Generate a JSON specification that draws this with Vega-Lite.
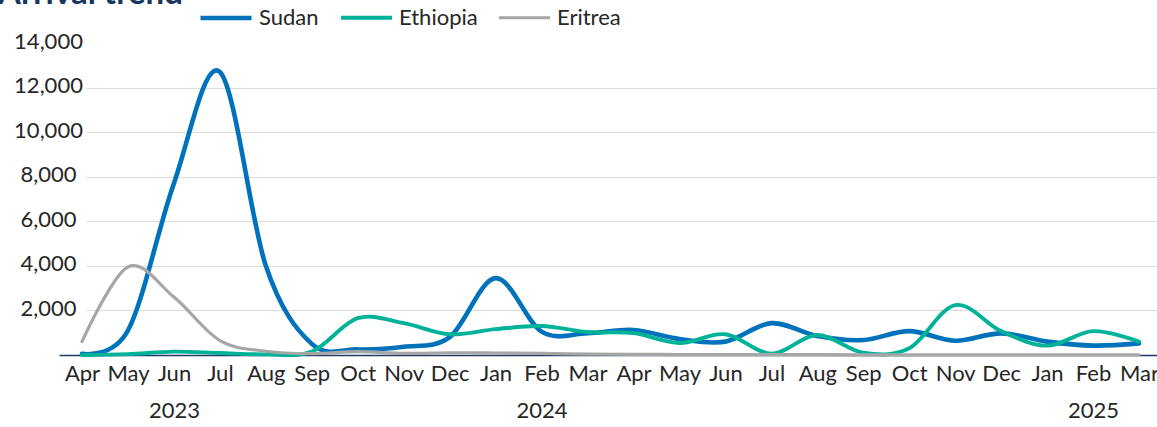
{
  "$schema": "https://vega.github.io/schema/vega-lite/v6.json",
  "width": 1074,
  "height": 312,
  "autosize": {"type": "none"},
  "padding": {"left": 86, "top": 43, "right": 0, "bottom": 72},
  "background": "white",
  "config": {"font": "Lato", "view": {"stroke": null}},
  "title": {"text": "Arrival trend", "anchor": "start", "frame": "group", "font": "Lato", "fontSize": 33, "fontWeight": "bold", "color": "#18375F", "baseline": "alphabetic", "offset": 0, "dx": -88, "dy": 47},
  "data": {"values": [
    {"m": "2023-04", "c": "Sudan", "v": 50},
    {"m": "2023-05", "c": "Sudan", "v": 1100},
    {"m": "2023-06", "c": "Sudan", "v": 7700},
    {"m": "2023-07", "c": "Sudan", "v": 12700},
    {"m": "2023-08", "c": "Sudan", "v": 4000},
    {"m": "2023-09", "c": "Sudan", "v": 500},
    {"m": "2023-10", "c": "Sudan", "v": 250},
    {"m": "2023-11", "c": "Sudan", "v": 370},
    {"m": "2023-12", "c": "Sudan", "v": 800},
    {"m": "2024-01", "c": "Sudan", "v": 3450},
    {"m": "2024-02", "c": "Sudan", "v": 1050},
    {"m": "2024-03", "c": "Sudan", "v": 980},
    {"m": "2024-04", "c": "Sudan", "v": 1120},
    {"m": "2024-05", "c": "Sudan", "v": 720},
    {"m": "2024-06", "c": "Sudan", "v": 600},
    {"m": "2024-07", "c": "Sudan", "v": 1430},
    {"m": "2024-08", "c": "Sudan", "v": 850},
    {"m": "2024-09", "c": "Sudan", "v": 670},
    {"m": "2024-10", "c": "Sudan", "v": 1070},
    {"m": "2024-11", "c": "Sudan", "v": 640},
    {"m": "2024-12", "c": "Sudan", "v": 970},
    {"m": "2025-01", "c": "Sudan", "v": 600},
    {"m": "2025-02", "c": "Sudan", "v": 420},
    {"m": "2025-03", "c": "Sudan", "v": 520},
    {"m": "2023-04", "c": "Ethiopia", "v": 0},
    {"m": "2023-05", "c": "Ethiopia", "v": 40},
    {"m": "2023-06", "c": "Ethiopia", "v": 150},
    {"m": "2023-07", "c": "Ethiopia", "v": 90},
    {"m": "2023-08", "c": "Ethiopia", "v": 30},
    {"m": "2023-09", "c": "Ethiopia", "v": 150},
    {"m": "2023-10", "c": "Ethiopia", "v": 1650},
    {"m": "2023-11", "c": "Ethiopia", "v": 1430},
    {"m": "2023-12", "c": "Ethiopia", "v": 930},
    {"m": "2024-01", "c": "Ethiopia", "v": 1160},
    {"m": "2024-02", "c": "Ethiopia", "v": 1300},
    {"m": "2024-03", "c": "Ethiopia", "v": 1030},
    {"m": "2024-04", "c": "Ethiopia", "v": 980},
    {"m": "2024-05", "c": "Ethiopia", "v": 540},
    {"m": "2024-06", "c": "Ethiopia", "v": 930},
    {"m": "2024-07", "c": "Ethiopia", "v": 60},
    {"m": "2024-08", "c": "Ethiopia", "v": 900},
    {"m": "2024-09", "c": "Ethiopia", "v": 100},
    {"m": "2024-10", "c": "Ethiopia", "v": 300},
    {"m": "2024-11", "c": "Ethiopia", "v": 2240},
    {"m": "2024-12", "c": "Ethiopia", "v": 1070},
    {"m": "2025-01", "c": "Ethiopia", "v": 420},
    {"m": "2025-02", "c": "Ethiopia", "v": 1070},
    {"m": "2025-03", "c": "Ethiopia", "v": 600},
    {"m": "2023-04", "c": "Eritrea", "v": 600},
    {"m": "2023-05", "c": "Eritrea", "v": 3950},
    {"m": "2023-06", "c": "Eritrea", "v": 2600},
    {"m": "2023-07", "c": "Eritrea", "v": 650},
    {"m": "2023-08", "c": "Eritrea", "v": 170},
    {"m": "2023-09", "c": "Eritrea", "v": 60},
    {"m": "2023-10", "c": "Eritrea", "v": 150},
    {"m": "2023-11", "c": "Eritrea", "v": 70},
    {"m": "2023-12", "c": "Eritrea", "v": 100},
    {"m": "2024-01", "c": "Eritrea", "v": 90},
    {"m": "2024-02", "c": "Eritrea", "v": 70},
    {"m": "2024-03", "c": "Eritrea", "v": 40},
    {"m": "2024-04", "c": "Eritrea", "v": 30},
    {"m": "2024-05", "c": "Eritrea", "v": 20},
    {"m": "2024-06", "c": "Eritrea", "v": 20},
    {"m": "2024-07", "c": "Eritrea", "v": 15},
    {"m": "2024-08", "c": "Eritrea", "v": 15},
    {"m": "2024-09", "c": "Eritrea", "v": 10},
    {"m": "2024-10", "c": "Eritrea", "v": 10},
    {"m": "2024-11", "c": "Eritrea", "v": 10},
    {"m": "2024-12", "c": "Eritrea", "v": 10},
    {"m": "2025-01", "c": "Eritrea", "v": 10},
    {"m": "2025-02", "c": "Eritrea", "v": 10},
    {"m": "2025-03", "c": "Eritrea", "v": 10}
  ]},
  "layer": [
    {
      "mark": {"type": "rule", "strokeOpacity": 0},
      "encoding": {
        "y": {"field": "v", "type": "quantitative", "scale": {"domain": [0, 14000]},
          "axis": {"orient": "right", "grid": true, "labels": false, "ticks": false, "domain": false, "title": null, "values": [2000, 4000, 6000, 8000, 10000, 12000], "gridColor": "#dcdcdc", "gridWidth": 1}}
      }
    },
    {
      "mark": {"type": "line", "interpolate": "cardinal", "strokeCap": "round"},
      "encoding": {
        "x": {"field": "m", "type": "ordinal", "scale": {"range": [-27, 1076]},
          "axis": {"title": null, "labelAngle": 0, "ticks": false, "tickSize": 0, "domainColor": "#1F3864", "domainWidth": 1.5, "labelFont": "Lato", "labelFontSize": 22, "labelColor": "#262626", "labelPadding": 8, "labelLineHeight": 37, "labelOverlap": false, "labelFlush": false, "labelBound": false, "grid": false,
            "labelExpr": "(datum.value == '2023-06' || datum.value == '2024-02' || datum.value == '2025-02') ? [['Jan','Feb','Mar','Apr','May','Jun','Jul','Aug','Sep','Oct','Nov','Dec'][toNumber(substring(datum.value,5,7))-1], substring(datum.value,0,4)] : ['Jan','Feb','Mar','Apr','May','Jun','Jul','Aug','Sep','Oct','Nov','Dec'][toNumber(substring(datum.value,5,7))-1]"}},
        "y": {"field": "v", "type": "quantitative", "scale": {"domain": [0, 14000]},
          "axis": {"title": null, "grid": false, "domain": false, "ticks": false, "tickSize": 0, "values": [2000, 4000, 6000, 8000, 10000, 12000, 14000], "format": ",.0f", "labelFont": "Lato", "labelFontSize": 22, "labelColor": "#262626", "labelAlign": "center", "labelPadding": 38, "labelOffset": -2}},
        "color": {"field": "c", "type": "nominal", "scale": {"domain": ["Sudan", "Ethiopia", "Eritrea"], "range": ["#0072BC", "#00B398", "#A6A6A6"]},
          "legend": {"title": null, "orient": "none", "legendX": 112, "legendY": -53, "direction": "horizontal", "symbolType": "stroke", "symbolSize": 2600, "symbolStrokeWidth": 4, "labelFont": "Lato", "labelFontSize": 22, "labelColor": "#262626", "columnPadding": 14, "labelOffset": 5}},
        "strokeWidth": {"field": "c", "type": "nominal", "scale": {"domain": ["Sudan", "Ethiopia", "Eritrea"], "range": [4.6, 3.2, 4.6]}, "legend": null}
      }
    }
  ],
  "resolve": {"scale": {"y": "independent", "x": "independent"}, "axis": {"y": "independent"}}
}
